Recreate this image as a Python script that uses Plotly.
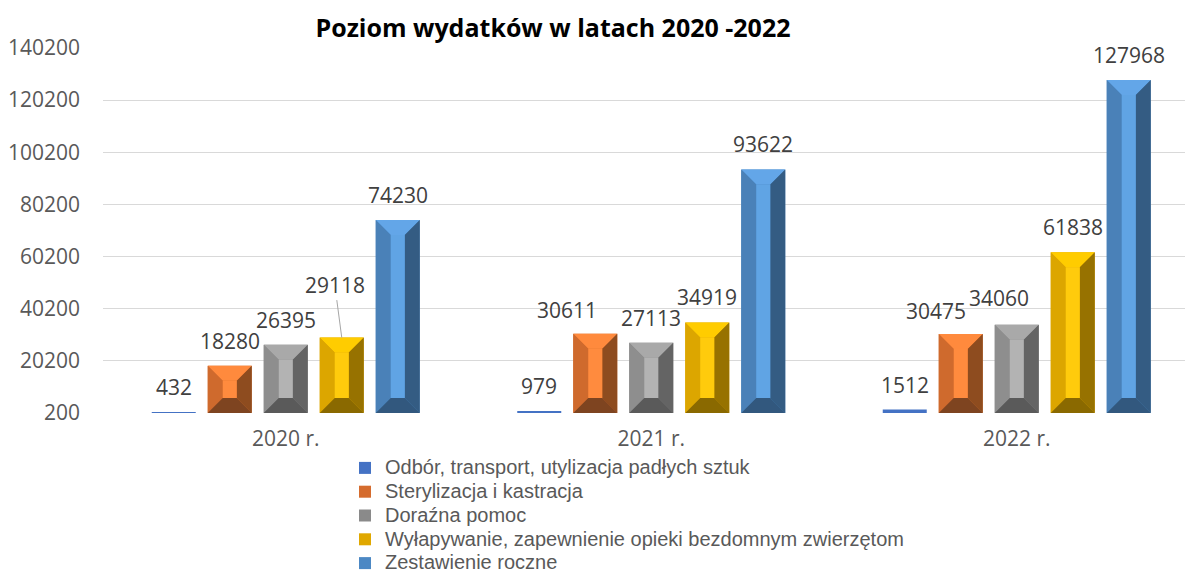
import plotly.graph_objects as go

# ---------------- data ----------------
categories = ["2020 r.", "2021 r.", "2022 r."]
series_names = [
    "Odbór, transport, utylizacja padłych sztuk",
    "Sterylizacja i kastracja",
    "Doraźna pomoc",
    "Wyłapywanie, zapewnienie opieki bezdomnym zwierzętom",
    "Zestawienie roczne",
]
odbior = [432, 979, 1512]
sterylizacja = [18280, 30611, 30475]
dorazna = [26395, 27113, 34060]
wylapywanie = [29118, 34919, 61838]
zestawienie = [74230, 93622, 127968]
series_values = [odbior, sterylizacja, dorazna, wylapywanie, zestawienie]

y_ticks = [200, 20200, 40200, 60200, 80200, 100200, 120200, 140200]
title_text = "Poziom wydatków w latach 2020 -2022"

# ---------------- styles ----------------
FONT = "Open Sans"
GREY_TXT = "#595959"
W, H = 1185, 574
ML, MT, MB = 103, 48, 161
PX_PER_CAT = 365.5
X_RANGE = [-0.5, -0.5 + (W - ML) / PX_PER_CAT]
Y_RANGE = [200, 140200]
plot_h = H - MT - MB
unit_per_px_y = (Y_RANGE[1] - Y_RANGE[0]) / plot_h
unit_per_px_x = 1 / PX_PER_CAT

slot = 56 * unit_per_px_x
bar_w = 44 * unit_per_px_x
bevel_x = 15 * unit_per_px_x
bevel_y = 15 * unit_per_px_y

legend_colors = ["#4472C4", "#D56C2E", "#8A8A8A", "#E0A800", "#4C88C4"]
# facet colours: top, left, center, right, bottom  (None = flat bar)
facets = [
    None,
    dict(top="#FF8A3D", left="#CF6A2D", center="#FF8B3E", right="#8E4C1F", bottom="#7E4420"),
    dict(top="#A9A9A9", left="#8E8E8E", center="#B3B3B3", right="#646464", bottom="#5A5A5A"),
    dict(top="#FFCC00", left="#DCA600", center="#FFCB0C", right="#977200", bottom="#8A6900"),
    dict(top="#63A6E8", left="#4A81B8", center="#60A4E4", right="#345C83", bottom="#32587E"),
]

# label offsets (px) : (xshift, yshift)
label_shift = {
    (1, 1): (-28, 24), (1, 2): (-25, 23),
    (2, 2): (-18, 27),
}

fig = go.Figure()

x_num = list(range(len(categories)))
for i, (name, vals) in enumerate(zip(series_names, series_values)):
    off = (i - 2) * slot - bar_w / 2
    fig.add_trace(go.Bar(
        x=x_num, y=[v - Y_RANGE[0] for v in vals], base=Y_RANGE[0],
        offset=off, width=bar_w,
        name='<span style="font-size:20px">' + name + "</span>",
        marker=dict(color=legend_colors[i], line=dict(width=0)),
        hoverinfo="skip",
    ))

# bevel facets, derived from the same values through the axes
for i, vals in enumerate(series_values):
    fc = facets[i]
    if fc is None:
        continue
    polys = {k: ([], []) for k in ("top", "left", "center", "right", "bottom")}
    for c, v in zip(x_num, vals):
        L = c + (i - 2) * slot - bar_w / 2
        R = L + bar_w
        B = Y_RANGE[0]
        T = v
        dy = min(bevel_y, (T - B) / 2)
        dx = bevel_x
        shapes = {
            "top": [(L, T), (R, T), (R - dx, T - dy), (L + dx, T - dy)],
            "left": [(L, T), (L + dx, T - dy), (L + dx, B + dy), (L, B)],
            "right": [(R, T), (R - dx, T - dy), (R - dx, B + dy), (R, B)],
            "bottom": [(L, B), (L + dx, B + dy), (R - dx, B + dy), (R, B)],
            "center": [(L + dx, T - dy), (R - dx, T - dy), (R - dx, B + dy), (L + dx, B + dy)],
        }
        for k, pts in shapes.items():
            xs, ys = polys[k]
            xs.extend([p[0] for p in pts] + [pts[0][0], None])
            ys.extend([p[1] for p in pts] + [pts[0][1], None])
    for k in ("top", "left", "right", "bottom", "center"):
        xs, ys = polys[k]
        fig.add_trace(go.Scatter(
            x=xs, y=ys, mode="lines", fill="toself", fillcolor=fc[k],
            line=dict(width=0, color=fc[k]), showlegend=False, hoverinfo="skip",
        ))

# data labels
LABEL_FONT = dict(family=FONT, size=21, color="#404040")
for i, vals in enumerate(series_values):
    for c, v in zip(x_num, vals):
        xc = c + (i - 2) * slot
        if (i, c) == (3, 0):
            fig.add_annotation(
                x=xc, y=v, text=str(v), showarrow=True, arrowhead=0,
                arrowwidth=1, arrowcolor="#A6A6A6", ax=-7, ay=-53,
                font=LABEL_FONT,
            )
            continue
        xs, ys = label_shift.get((i, c), (0, 25))
        fig.add_annotation(
            x=xc, y=v, text=str(v), showarrow=False,
            xshift=xs, yshift=ys, yanchor="middle",
            font=LABEL_FONT,
        )

fig.update_layout(
    width=W, height=H,
    margin=dict(l=ML, r=0, t=MT, b=MB, pad=0, autoexpand=False),
    paper_bgcolor="white", plot_bgcolor="white",
    barmode="overlay",
    title=dict(text=title_text, x=553 / W, xanchor="center", y=1 - 28 / H, yanchor="middle",
               font=dict(family=FONT, size=25, color="black", weight="bold")),
    xaxis=dict(range=X_RANGE, tickvals=x_num, ticktext=categories, showgrid=False,
               zeroline=False, showline=False, ticks="", ticklabelstandoff=11,
               tickfont=dict(family=FONT, size=21, color=GREY_TXT)),
    yaxis=dict(range=Y_RANGE, tickvals=y_ticks, ticktext=[str(t) for t in y_ticks],
               showgrid=True, gridcolor="#D9D9D9", gridwidth=1, zeroline=False,
               showline=False, ticks="", ticklabelstandoff=22,
               tickfont=dict(family=FONT, size=21, color=GREY_TXT)),
    legend=dict(x=(345 - ML) / (W - ML), xanchor="left", y=(-38) / plot_h, yanchor="top",
                orientation="v", font=dict(family="Liberation Sans", size=16, color=GREY_TXT),
                bgcolor="rgba(0,0,0,0)", itemclick=False, tracegroupgap=0),
    showlegend=True,
)

fig.write_html("out.html", config={"displayModeBar": False},
               post_script="document.body.style.margin='0';")
